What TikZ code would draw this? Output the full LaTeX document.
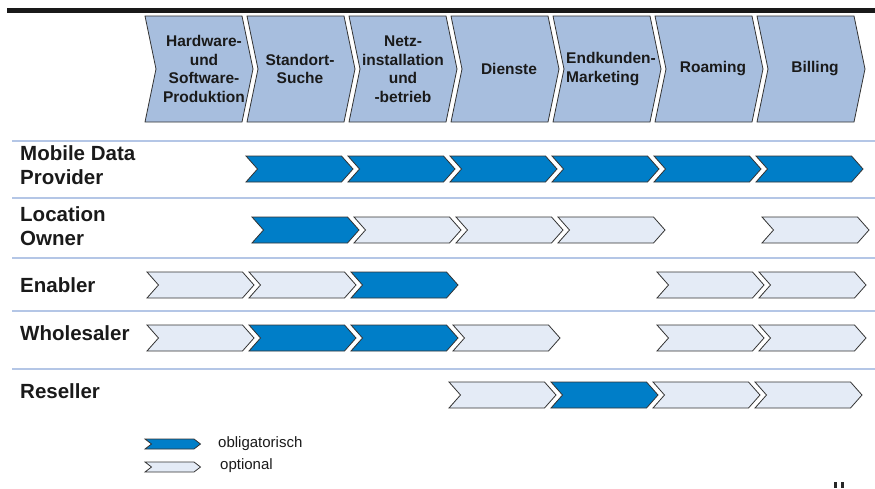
\documentclass[tikz,border=0pt]{standalone}
\usepackage{fontspec}
\setmainfont{Liberation Sans}
\definecolor{hdrfill}{HTML}{A7BEDE}
\definecolor{oblfill}{HTML}{007EC8}
\definecolor{optfill}{HTML}{E4EBF6}
\definecolor{sepcol}{HTML}{B4C6E6}
\definecolor{edge}{HTML}{333333}
\definecolor{txt}{HTML}{1A1A1A}
\newcommand\chev[6]{% #1 style, #2 left, #3 top, #4 height, #5 body width, #6 tip depth
  \draw[#1] (#2,#3) -- ({#2+#5},#3) -- ({#2+#5+#6},{#3+#4/2}) -- ({#2+#5},{#3+#4})
    -- (#2,{#3+#4}) -- ({#2+#6},{#3+#4/2}) -- cycle;}
\newcommand\rchev[4]{% style, column, dx, top
  \pgfmathsetmacro\cL{145+102*(#2-1)+#3}\chev{#1}{\cL}{#4}{26}{95.5}{11.5}}
\begin{document}
\begin{tikzpicture}[x=1pt,y=-1pt,
  hdr/.style={fill=hdrfill,draw=edge,line width=0.8pt},
  obl/.style={fill=oblfill,draw=edge,line width=0.8pt},
  opt/.style={fill=optfill,draw=edge,line width=0.8pt},
  sep/.style={draw=sepcol,line width=1.6pt},
  hdrtext/.style={font=\fontsize{15.5}{18.5}\selectfont\bfseries,text=txt,align=center,inner sep=0pt},
  rowlabel/.style={font=\fontsize{20.5}{24.5}\selectfont\bfseries,text=txt,align=left,anchor=west,inner sep=0pt},
  legtext/.style={font=\fontsize{15}{18}\selectfont,text=txt,anchor=west,inner sep=0pt}]
\useasboundingbox (0,0) rectangle (875,488);
% top bar
\fill[black!90] (7,8.3) rectangle (875,13.3);
% header chevrons
\foreach \i in {1,...,7}{
  \pgfmathsetmacro\hL{145+102*(\i-1)}
  \chev{hdr}{\hL}{16}{106}{97}{11}
}
\node[hdrtext] (h1) at (204,69) {Hardware-\\und\\Software-\\Produktion};
\node[hdrtext] (h2) at (300,69) {Standort-\\Suche};
\node[hdrtext] (h3) at (403,69) {Netz-\\installation\\und\\-betrieb};
\node[hdrtext] (h4) at (509,69) {Dienste};
\node[hdrtext,align=left] (h5) at (611,69) {Endkunden-\\Marketing};
\node[hdrtext] (h6) at (713,69) {Roaming};
\node[hdrtext] (h7) at (815,69) {Billing};
% separators
\foreach \y in {141,198,258,311,369}{
  \draw[sep] (12,\y) -- (875,\y);
}
% row labels
\node[rowlabel] (lmdp) at (20,165) {Mobile Data\\Provider};
\node[rowlabel] (llo) at (20,226) {Location\\Owner};
\node[rowlabel] (len) at (20,285) {Enabler};
\node[rowlabel] (lwh) at (20,333) {Wholesaler};
\node[rowlabel] (lre) at (20,391) {Reseller};
% Mobile Data Provider
\foreach \c in {2,...,7}{\rchev{obl}{\c}{-1}{156}}
% Location Owner
\rchev{obl}{2}{5}{217}
\foreach \c in {3,4,5,7}{\rchev{opt}{\c}{5}{217}}
% Enabler
\foreach \c in {1,2,6,7}{\rchev{opt}{\c}{2}{272}}
\rchev{obl}{3}{2}{272}
% Wholesaler
\foreach \c in {1,4,6,7}{\rchev{opt}{\c}{2}{325}}
\foreach \c in {2,3}{\rchev{obl}{\c}{2}{325}}
% Reseller
\foreach \c in {4,6,7}{\rchev{opt}{\c}{-2}{382}}
\rchev{obl}{5}{-2}{382}
% legend
\chev{obl}{145}{439}{10}{49}{6.5}
\chev{opt}{145}{462}{10}{49}{6.5}
\node[legtext] (lobl) at (218,444) {obligatorisch};
\node[legtext] (lopt) at (220,466) {optional};
% cut-off fragment bottom right
\fill[black!85] (834,482) rectangle (837,488);
\fill[black!85] (841,482) rectangle (844,488);
\end{tikzpicture}
\end{document}
